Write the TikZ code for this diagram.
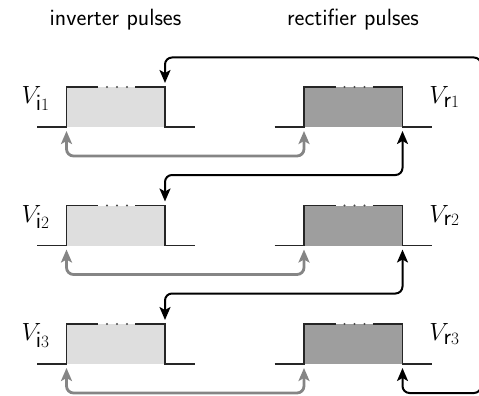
\documentclass[tikz,border=0pt]{standalone}
\usetikzlibrary{arrows.meta}
\definecolor{invfill}{HTML}{DEDEDE}
\definecolor{recfill}{HTML}{9E9E9E}
\definecolor{arrgray}{HTML}{858585}
\tikzset{
  pulseline/.style={draw=black!85, line width=1.1pt},
  grayarr/.style={draw=arrgray, line width=2.8pt, rounded corners=7pt,
    {Stealth[length=13pt,width=11pt,inset=3pt]}-{Stealth[length=13pt,width=11pt,inset=3pt]},
    shorten <=4pt, shorten >=4pt},
  blackarr/.style={draw=black, line width=2pt, rounded corners=7pt,
    {Stealth[length=13pt,width=11pt,inset=3pt]}-{Stealth[length=13pt,width=11pt,inset=3pt]},
    shorten <=4pt, shorten >=4pt},
  blackend/.style={draw=black, line width=2pt, rounded corners=7pt,
    -{Stealth[length=13pt,width=11pt,inset=3pt]}, shorten >=4pt},
  blackstart/.style={draw=black, line width=2pt, rounded corners=7pt,
    {Stealth[length=13pt,width=11pt,inset=3pt]}-, shorten <=4pt},
  vlab/.style={font=\fontsize{23.5}{28}\selectfont, inner sep=0pt, anchor=base},
  title/.style={font=\sffamily\fontsize{23.5}{28}\selectfont, inner sep=0pt, anchor=base},
  dotmark/.style={fill=black!70, draw=none}
}
\newcommand\mypulse[4]{% #1 name, #2 rise x, #3 baseline y, #4 fill
  \fill[#4] (#2,#3) rectangle ++(98.5,-40);
  \draw[pulseline] (#2-29.5,#3) -- (#2,#3) -- (#2,#3-40) -- (#2+31.5,#3-40);
  \draw[pulseline] (#2+68.5,#3-40) -- (#2+98.5,#3-40) -- (#2+98.5,#3) -- (#2+128,#3);
  \foreach \dx in {40.5,50.5,60.5} \fill[dotmark] (#2+\dx,#3-40) circle (1.1pt);
  \coordinate (#1rb) at (#2,#3);
  \coordinate (#1fb) at (#2+98.5,#3);
  \coordinate (#1ft) at (#2+98.5,#3-40);
}
\begin{document}
\begin{tikzpicture}[x=1pt,y=-1pt]
  \clip (0,0) rectangle (479,396);
  \node[title] (tinv) at (115.5,26) {inverter pulses};
  \node[title] (trec) at (353,26) {rectifier pulses};
  \mypulse{i1}{66.5}{127}{invfill}
  \mypulse{r1}{304}{127}{recfill}
  \mypulse{i2}{66.5}{245.5}{invfill}
  \mypulse{r2}{304}{245.5}{recfill}
  \mypulse{i3}{66.5}{364}{invfill}
  \mypulse{r3}{304}{364}{recfill}
  \node[vlab] (vi1) at (35.5,103.5) {$V_{\textsf{i}1}$};
  \node[vlab] (vr1) at (444.5,103.5) {$V_{\textsf{r}1}$};
  \node[vlab] (vi2) at (35.5,222) {$V_{\textsf{i}2}$};
  \node[vlab] (vr2) at (444.5,222) {$V_{\textsf{r}2}$};
  \node[vlab] (vi3) at (35.5,340.5) {$V_{\textsf{i}3}$};
  \node[vlab] (vr3) at (444.5,340.5) {$V_{\textsf{r}3}$};
  % gray arrows
  \draw[grayarr] (i1rb) -- ++(0,29) -| (r1rb);
  \draw[grayarr] (i2rb) -- ++(0,29) -| (r2rb);
  \draw[grayarr] (i3rb) -- ++(0,29) -| (r3rb);
  % black arrows
  \draw[blackarr] (r1fb) -- ++(0,48) -| (i2ft);
  \draw[blackarr] (r2fb) -- ++(0,48) -| (i3ft);
  \coordinate (topin) at (481,100);
  \coordinate (topcorner) at (481,57.5);
  \draw[blackend] (topin) -- (topcorner) -| (i1ft);
  \coordinate (botout) at (481,340);
  \draw[blackstart] (r3fb) -- ++(0,29) -| (botout);
\end{tikzpicture}
\end{document}
